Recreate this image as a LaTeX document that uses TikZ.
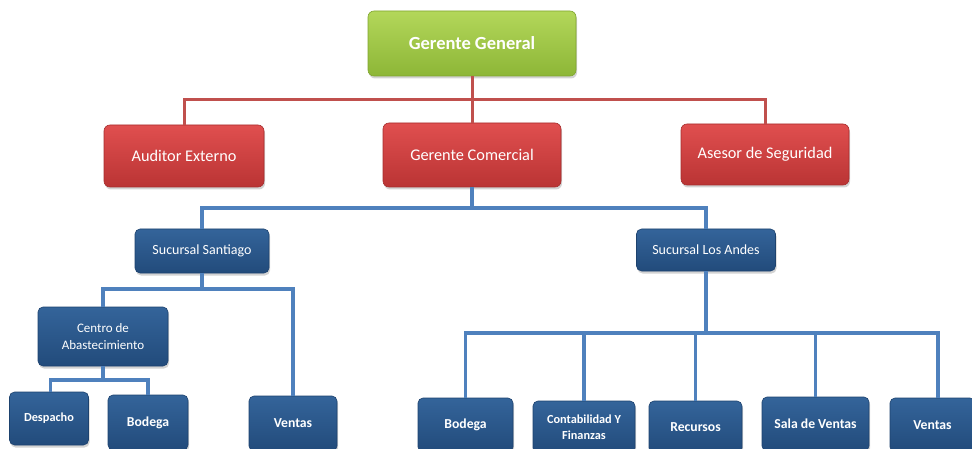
\documentclass[tikz,border=0pt]{standalone}
\usepackage{fontspec}
\setmainfont{Carlito}
\usetikzlibrary{shadows}
\definecolor{gtop}{HTML}{B3D75A}
\definecolor{gbot}{HTML}{8DB637}
\definecolor{gbrd}{HTML}{7FA52E}
\definecolor{rtop}{HTML}{E04F4F}
\definecolor{rbot}{HTML}{BA3434}
\definecolor{rbrd}{HTML}{A52C2C}
\definecolor{btop}{HTML}{34649A}
\definecolor{bbot}{HTML}{224B7B}
\definecolor{bbrd}{HTML}{1D426E}
\definecolor{redline}{HTML}{C0504D}
\definecolor{blueline}{HTML}{4F81BD}
\tikzset{
  box/.style={rectangle, rounded corners=6pt, inner sep=0pt, text=white, align=center,
    draw, line width=0.6pt,
    drop shadow={opacity=0.35, shadow xshift=1pt, shadow yshift=-2.5pt}},
  gbox/.style={box, top color=gtop, bottom color=gbot, draw=gbrd, font=\fontsize{18.5}{22}\selectfont\bfseries},
  rbox/.style={box, top color=rtop, bottom color=rbot, draw=rbrd, font=\fontsize{16.3}{19}\selectfont},
  bbox/.style={box, rounded corners=5pt, top color=btop, bottom color=bbot, draw=bbrd, font=\fontsize{14}{16}\selectfont},
  cbox/.style={bbox, font=\fontsize{13}{16.5}\selectfont},
  bbold/.style={bbox, font=\fontsize{13.7}{16}\selectfont\bfseries},
  bsmall/.style={bbox, font=\fontsize{12.3}{15.5}\selectfont\bfseries},
  rline/.style={draw=redline, line width=3pt},
  bline/.style={draw=blueline, line width=3.3pt},
}
\begin{document}
\begin{tikzpicture}[x=1pt,y=-1pt]
\useasboundingbox (0,0) rectangle (972,449);
\clip (0,0) rectangle (972,449);
\coordinate (rbus) at (472,100);
\coordinate (bbus) at (472,208);
\coordinate (sbus) at (202,289);
\coordinate (cbus) at (103,380);
\coordinate (abus) at (706,333);
\node[gbox, minimum width=208, minimum height=65] (gg) at (472,43.5) {Gerente General};
\node[rbox, minimum width=160, minimum height=62] (ae) at (184,156) {Auditor Externo};
\node[rbox, minimum width=178, minimum height=64] (gc) at (472,155) {Gerente Comercial};
\node[rbox, minimum width=168, minimum height=61] (as) at (765,154.5) {Asesor de Seguridad};
\node[bbox, minimum width=134, minimum height=44] (ss) at (202,251) {Sucursal Santiago};
\node[bbox, minimum width=139, minimum height=42] (la) at (706,250) {Sucursal Los Andes};
\node[cbox, minimum width=130, minimum height=59] (ca) at (103,336.5) {Centro de\\Abastecimiento};
\node[bsmall, minimum width=79, minimum height=53] (de) at (49,418.5) {Despacho};
\node[bbold, minimum width=80, minimum height=55] (bo1) at (148,422.5) {Bodega};
\node[bbold, minimum width=88, minimum height=55] (ve1) at (293,423.5) {Ventas};
\node[bbold, minimum width=95, minimum height=54] (bo2) at (465.5,425) {Bodega};
\node[bsmall, minimum width=102, minimum height=52] (co) at (584,427) {Contabilidad Y\\Finanzas};
\node[bbold, minimum width=93, minimum height=52] (re) at (695.5,427) {Recursos};
\node[bbold, minimum width=107, minimum height=54] (sv) at (815.5,424) {Sala de Ventas};
\node[bbold, minimum width=85, minimum height=54] (ve2) at (932.5,425) {Ventas};
\begin{scope}[line join=miter]
\draw[rline] (gg.south) -- (rbus);
\draw[rline] (ae.north) |- (rbus) -| (as.north);
\draw[rline] (rbus) -- (gc.north);
\draw[bline] (gc.south) -- (bbus);
\draw[bline] (ss.north) |- (bbus) -| (la.north);
\draw[bline] (ss.south) -- (sbus);
\draw[bline] (ca.north) |- (sbus) -| (ve1.north);
\draw[bline] (ca.south) -- (cbus);
\draw[bline] ([xshift=1.5pt]de.north) |- (cbus) -| (bo1.north);
\draw[bline] (la.south) -- (abus);
\draw[bline] (bo2.north) |- (abus) -| ([xshift=5.5pt]ve2.north);
\draw[bline] (co.north) -- (co.north |- abus);
\draw[bline] (re.north) -- (re.north |- abus);
\draw[bline] (sv.north) -- (sv.north |- abus);
\end{scope}
\end{tikzpicture}
\end{document}
